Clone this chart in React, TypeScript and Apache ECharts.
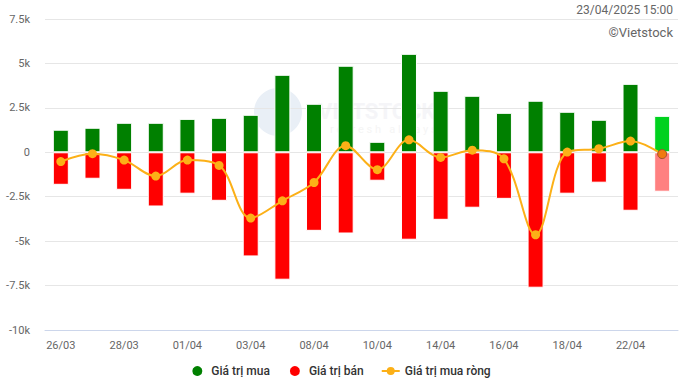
import React, { useEffect, useRef } from "react";
import * as echarts from "echarts";

const categories = [
  "26/03", "27/03", "28/03", "31/03", "01/04", "02/04", "03/04", "04/04", "08/04", "09/04",
  "10/04", "11/04", "14/04", "15/04", "16/04", "17/04", "18/04", "21/04", "22/04", "23/04",
];
const buyValues = [
  1270, 1380, 1660, 1660, 1880, 1940, 2110, 4360, 2730, 4870,
  590, 5540, 3460, 3180, 2220, 2900, 2280, 1830, 3850, 2050,
];
const sellValues = [
  -1830, -1490, -2110, -3050, -2330, -2730, -5860, -7170, -4420, -4570,
  -1600, -4920, -3800, -3120, -2620, -7620, -2330, -1710, -3290, -2220,
];
const netValues = [
  -520, -80, -440, -1340, -440, -740, -3700, -2730, -1700, 370,
  -980, 700, -290, 120, -370, -4640, 10, 200, 630, -100,
];
const yTicks = { min: -10000, max: 7500, interval: 2500 };

const FONT = "Roboto, 'Noto Sans', sans-serif";
const LINE_ICON =
  "path://M0,5h18v2h-18z M13,6a4,4 0 1 1 -8,0a4,4 0 1 1 8,0z M0,0h0.01v0.01h-0.01z M17.99,11.99h0.01v0.01h-0.01z";

function fmtK(v: number): string {
  if (v === 0) return "0";
  return `${v / 1000}k`;
}

export default function App() {
  const ref = useRef<HTMLDivElement>(null);
  useEffect(() => {
    if (!ref.current) return;
    const chart = echarts.init(ref.current, undefined, { renderer: "svg" });
    const last = categories.length - 1;
    chart.setOption({
      animation: false,
      backgroundColor: "#ffffff",
      textStyle: { fontFamily: FONT },
      grid: { left: 45, right: 3, top: 19, bottom: 59, containLabel: false },
      graphic: [
        {
          type: "group",
          z: 0,
          silent: true,
          children: [
            { type: "circle", shape: { cx: 278, cy: 112, r: 24 }, style: { fill: "#e9eff6" } },
            { type: "text", x: 318, y: 100, style: { text: "VIETSTOCK", fill: "#f5f5f8", font: `bold 22px ${FONT}` } },
            { type: "text", x: 330, y: 124, style: { text: "r e f r e s h   a l w a y s", fill: "#f5f5f5", font: `11px ${FONT}` } },
          ],
        },
        {
          type: "text",
          right: 8,
          top: 4,
          style: { text: "23/04/2025 15:00", fill: "#666666", font: `12px ${FONT}` },
        },
        {
          type: "text",
          right: 8,
          top: 26,
          style: { text: "©Vietstock", fill: "#666666", font: `13px ${FONT}` },
        },
      ],
      legend: {
        bottom: 6,
        left: "center",
        itemWidth: 18,
        itemHeight: 12,
        itemGap: 18,
        textStyle: { color: "#333333", fontSize: 12, fontWeight: 500, fontFamily: FONT },
        data: [
          { name: "Giá trị mua", icon: "circle", itemStyle: { color: "#008000" } },
          { name: "Giá trị bán", icon: "circle", itemStyle: { color: "#ff0000" } },
          { name: "Giá trị mua ròng", icon: LINE_ICON, itemStyle: { color: "#fcb017" } },
        ],
      },
      xAxis: {
        type: "category",
        data: categories,
        position: "bottom",
        axisLine: { onZero: false, lineStyle: { color: "#ccd6eb" } },
        axisTick: { show: false },
        axisLabel: { interval: 1, color: "#666666", fontSize: 11, margin: 10, fontFamily: FONT },
      },
      yAxis: {
        type: "value",
        min: yTicks.min,
        max: yTicks.max,
        interval: yTicks.interval,
        axisLine: { show: false },
        axisTick: { show: false },
        axisLabel: { color: "#666666", fontSize: 11, margin: 15, formatter: fmtK, fontFamily: FONT },
        splitLine: { lineStyle: { color: "#e6e6e6" } },
      },
      series: [
        {
          name: "Giá trị mua",
          type: "bar",
          barWidth: 16,
          barGap: "-100%",
          z: 2,
          itemStyle: { color: "#008000", borderColor: "#ffffff", borderWidth: 1 },
          data: buyValues.map((v, i) =>
            i === last ? { value: v, itemStyle: { color: "#00d11f" } } : v
          ),
        },
        {
          name: "Giá trị bán",
          type: "bar",
          barWidth: 16,
          barGap: "-100%",
          z: 2,
          itemStyle: { color: "#ff0000", borderColor: "#ffffff", borderWidth: 1 },
          data: sellValues.map((v, i) =>
            i === last ? { value: v, itemStyle: { color: "#ff8080" } } : v
          ),
        },
        {
          name: "Giá trị mua ròng",
          type: "line",
          smooth: 0.35,
          z: 5,
          symbol: "circle",
          symbolSize: 9,
          lineStyle: { color: "#fcb017", width: 2 },
          itemStyle: { color: "#fcb017" },
          data: netValues.map((v, i) =>
            i === last
              ? { value: v, itemStyle: { color: "#f07a10", borderColor: "#a0522d", borderWidth: 1 } }
              : v
          ),
        },
      ],
    });
    return () => chart.dispose();
  }, []);
  return <div ref={ref} style={{ width: 681, height: 389, position: "absolute", left: 0, top: 0 }} />;
}
